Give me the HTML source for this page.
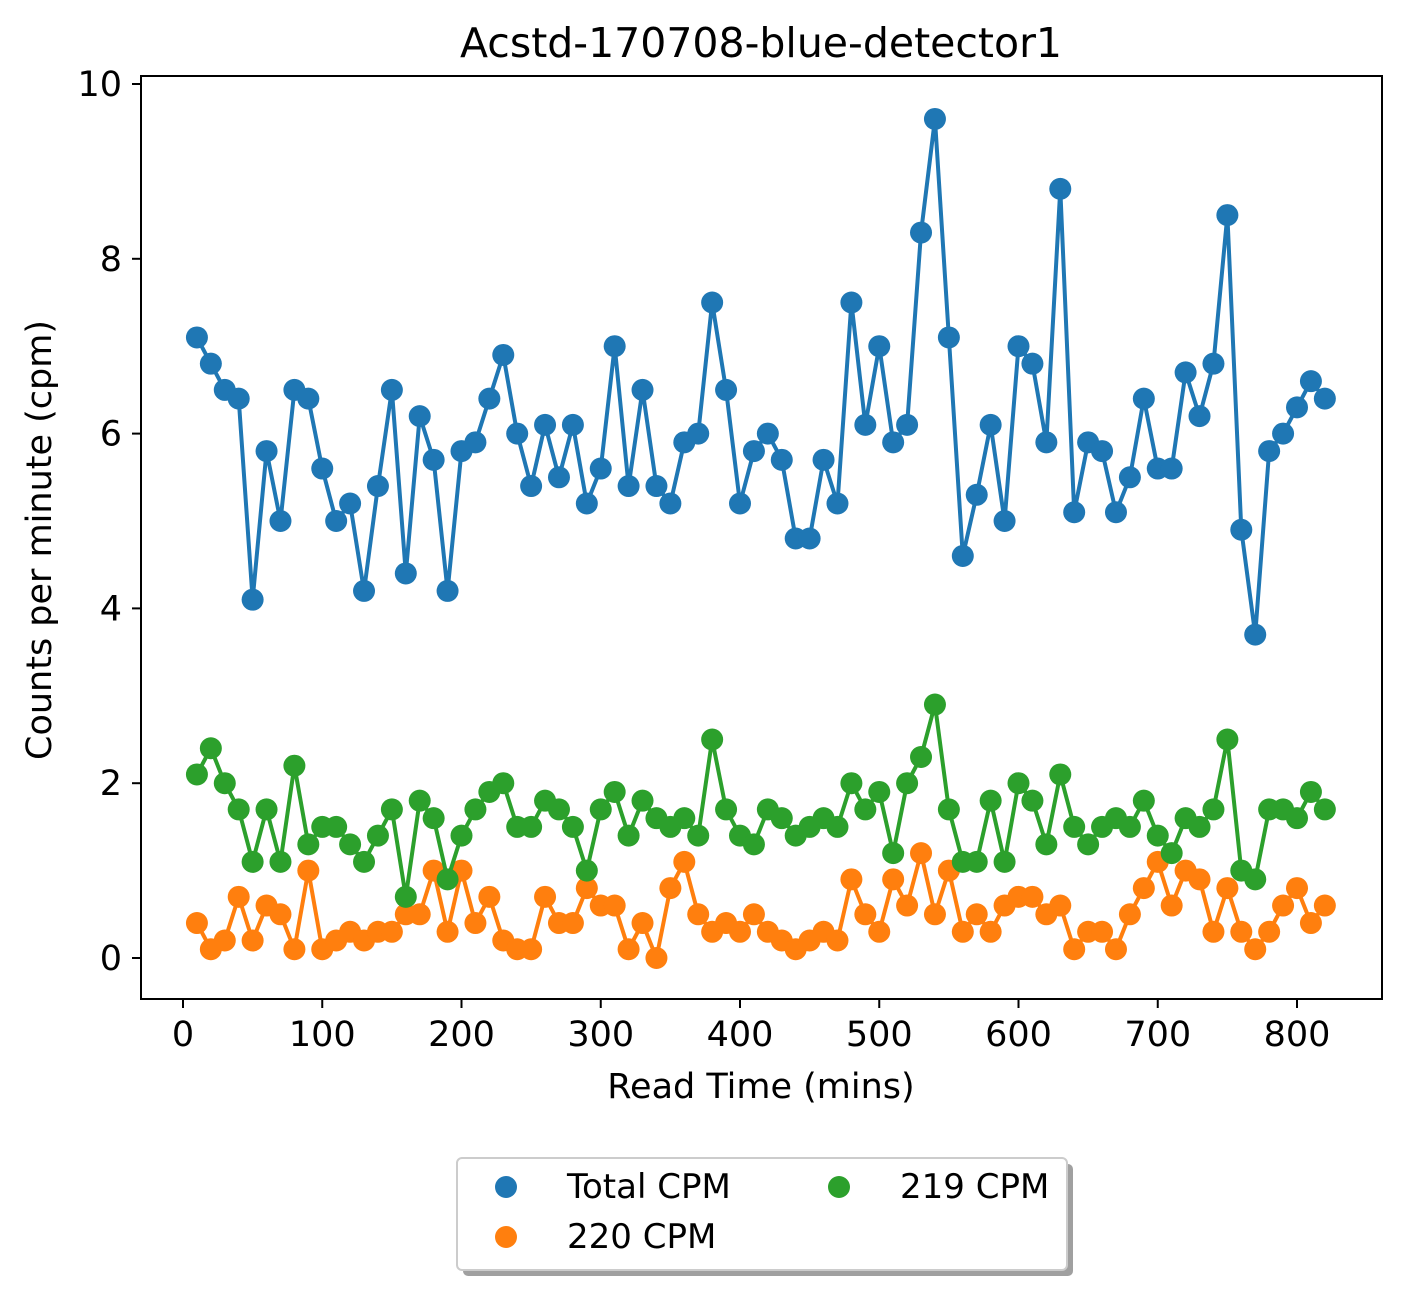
<!DOCTYPE html>
<html><head><meta charset="utf-8">
<style>
html,body{margin:0;padding:0;background:#fff;}
svg text{font-family:"DejaVu Sans","Liberation Sans",sans-serif;fill:#000;}
</style></head>
<body>
<svg id="chart" width="1406" height="1294" viewBox="0 0 1406 1294" xmlns="http://www.w3.org/2000/svg">
<rect width="1406" height="1294" fill="#fff"/>
<text x="761" y="57" font-size="41" text-anchor="middle">Acstd-170708-blue-detector1</text>
<g id="xticks"></g>
<g id="yticks"></g>
<g id="series"></g>
<rect x="141" y="76" width="1241" height="923" fill="none" stroke="#000" stroke-width="2"/>
<text x="761" y="1098" font-size="35" text-anchor="middle">Read Time (mins)</text>
<text transform="translate(51,540) rotate(-90)" font-size="35" text-anchor="middle">Counts per minute (cpm)</text>
<g>
<rect x="463" y="1164" width="610" height="112" rx="5" fill="#888" opacity="0.8"/>
<rect x="457" y="1158" width="610" height="112" rx="5" fill="#fff" stroke="#ccc" stroke-width="2"/>
<circle cx="506" cy="1187" r="11" fill="#1f77b4"/>
<text x="567" y="1198" font-size="34">Total CPM</text>
<circle cx="506" cy="1237" r="11" fill="#ff7f0e"/>
<text x="567" y="1248" font-size="34">220 CPM</text>
<circle cx="839" cy="1187" r="11" fill="#2ca02c"/>
<text x="900" y="1198" font-size="34">219 CPM</text>
</g>
</svg>
<script>
const totalCpm=[7.1,6.8,6.5,6.4,4.1,5.8,5.0,6.5,6.4,5.6,5.0,5.2,4.2,5.4,6.5,4.4,6.2,5.7,4.2,5.8,5.9,6.4,6.9,6.0,5.4,6.1,5.5,6.1,5.2,5.6,7.0,5.4,6.5,5.4,5.2,5.9,6.0,7.5,6.5,5.2,5.8,6.0,5.7,4.8,4.8,5.7,5.2,7.5,6.1,7.0,5.9,6.1,8.3,9.6,7.1,4.6,5.3,6.1,5.0,7.0,6.8,5.9,8.8,5.1,5.9,5.8,5.1,5.5,6.4,5.6,5.6,6.7,6.2,6.8,8.5,4.9,3.7,5.8,6.0,6.3,6.6,6.4];
const cpm220=[0.4,0.1,0.2,0.7,0.2,0.6,0.5,0.1,1.0,0.1,0.2,0.3,0.2,0.3,0.3,0.5,0.5,1.0,0.3,1.0,0.4,0.7,0.2,0.1,0.1,0.7,0.4,0.4,0.8,0.6,0.6,0.1,0.4,0.0,0.8,1.1,0.5,0.3,0.4,0.3,0.5,0.3,0.2,0.1,0.2,0.3,0.2,0.9,0.5,0.3,0.9,0.6,1.2,0.5,1.0,0.3,0.5,0.3,0.6,0.7,0.7,0.5,0.6,0.1,0.3,0.3,0.1,0.5,0.8,1.1,0.6,1.0,0.9,0.3,0.8,0.3,0.1,0.3,0.6,0.8,0.4,0.6];
const cpm219=[2.1,2.4,2.0,1.7,1.1,1.7,1.1,2.2,1.3,1.5,1.5,1.3,1.1,1.4,1.7,0.7,1.8,1.6,0.9,1.4,1.7,1.9,2.0,1.5,1.5,1.8,1.7,1.5,1.0,1.7,1.9,1.4,1.8,1.6,1.5,1.6,1.4,2.5,1.7,1.4,1.3,1.7,1.6,1.4,1.5,1.6,1.5,2.0,1.7,1.9,1.2,2.0,2.3,2.9,1.7,1.1,1.1,1.8,1.1,2.0,1.8,1.3,2.1,1.5,1.3,1.5,1.6,1.5,1.8,1.4,1.2,1.6,1.5,1.7,2.5,1.0,0.9,1.7,1.7,1.6,1.9,1.7];
const readTimes=totalCpm.map((_,i)=>(i+1)*10);
const xTickLabels=[0,100,200,300,400,500,600,700,800];
const yTickLabels=[0,2,4,6,8,10];
const NS="http://www.w3.org/2000/svg";
function xs(v){return 183+v*(1297-183)/800;}
function ys(v){return 958-v*(958-84)/10;}
function mk(tag,attrs,parent){const e=document.createElementNS(NS,tag);for(const k in attrs)e.setAttribute(k,attrs[k]);parent.appendChild(e);return e;}
const xg=document.getElementById('xticks'),yg=document.getElementById('yticks'),sg=document.getElementById('series');
xTickLabels.forEach(t=>{
  const l=mk('line',{x1:xs(t),x2:xs(t),y1:999,y2:1008,stroke:'#000','stroke-width':2},xg);
  
  
  const tx=mk('text',{x:xs(t),y:1046,'font-size':35,'text-anchor':'middle'},xg);
  tx.textContent=t;
  
  
});
yTickLabels.forEach(t=>{
  const l=mk('line',{x1:132,x2:141,y1:ys(t),y2:ys(t),stroke:'#000','stroke-width':2},yg);
  
  
  const tx=mk('text',{x:122,y:ys(t)+12,'font-size':35,'text-anchor':'end'},yg);
  tx.textContent=t;
  
  
});
function drawSeries(vals,color,name){
  const g=mk('g',{},sg);
  
  
  const pts=vals.map((v,i)=>xs(readTimes[i])+','+ys(v)).join(' ');
  const pl=mk('polyline',{points:pts,fill:'none',stroke:color,'stroke-width':4,'stroke-linejoin':'round'},g);
  
  
  vals.forEach((v,i)=>{
    const c=mk('circle',{cx:xs(readTimes[i]),cy:ys(v),r:11,fill:color},g);
    
    
  });
}
drawSeries(totalCpm,'#1f77b4','total-cpm');
drawSeries(cpm220,'#ff7f0e','cpm-220');
drawSeries(cpm219,'#2ca02c','cpm-219');
</script>
</body></html>
